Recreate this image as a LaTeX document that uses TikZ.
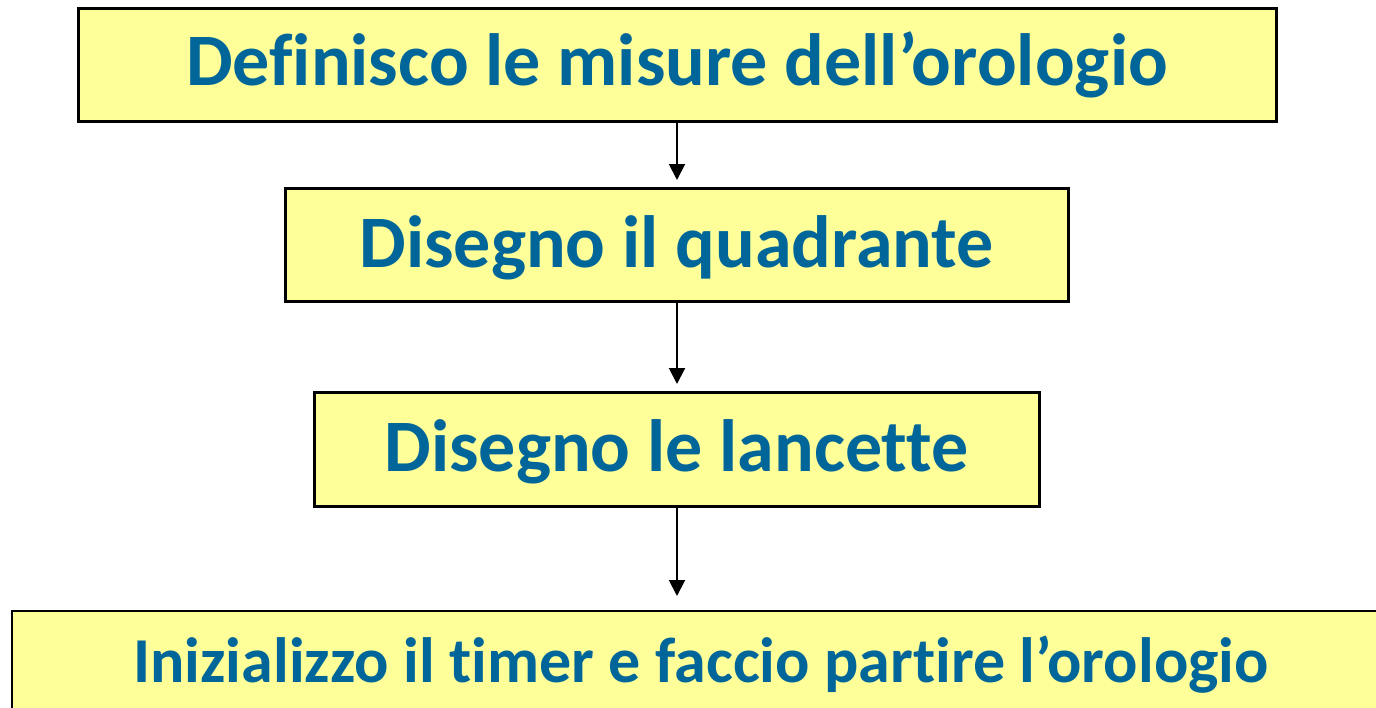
\documentclass[tikz,border=0pt]{standalone}
\usepackage{fontspec}
\setmainfont[Ligatures={NoCommon}]{Carlito}
\usetikzlibrary{arrows.meta}
\definecolor{boxfill}{RGB}{255,255,153}
\definecolor{txtblue}{RGB}{0,102,153}
\tikzset{
  stepbox/.style={draw=black, line width=3pt, fill=boxfill, inner sep=0pt, outer sep=0pt,
    font=\bfseries\fontsize{74}{74}\selectfont, text=txtblue, align=center,
    text height=42pt, text depth=0pt},
  flowarrow/.style={line width=2pt, -{Triangle[length=16pt,width=16pt]}, shorten >=8pt}
}
\begin{document}
\begin{tikzpicture}[x=1pt,y=-1pt]
\useasboundingbox (0,0) rectangle (1376,707);
\clip (0,0) rectangle (1376,707);
\node[stepbox, text height=41pt, minimum width=1198pt, minimum height=113pt] (b1) at (677,64.5) {Definisco le misure dell’orologio};
\node[stepbox, text height=45pt, minimum width=783pt, minimum height=113pt] (b2) at (676.5,244.5) {Disegno il quadrante};
\node[stepbox, text height=44pt, minimum width=725pt, minimum height=114pt] (b3) at (676.5,449) {Disegno le lancette};
\node[stepbox, line width=1.5pt, text height=40pt, font=\bfseries\fontsize{64}{64}\selectfont, minimum width=1378pt, minimum height=102pt] (b4) at (701,662) {Inizializzo il timer e faccio partire l’orologio};
\draw[flowarrow] (b1.south -| 677,0) -- (b2.north -| 677,0);
\draw[flowarrow] (b2.south -| 677,0) -- (b3.north -| 677,0);
\draw[flowarrow, shorten >=15pt] (b3.south -| 677,0) -- (b4.north -| 677,0);
\end{tikzpicture}
\end{document}
